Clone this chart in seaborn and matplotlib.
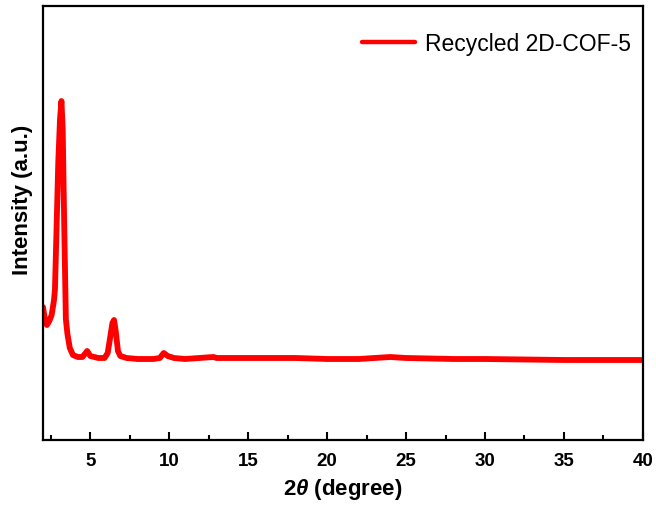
import matplotlib.pyplot as plt
import numpy as np
import pandas as pd
import seaborn as sns

# 2-theta positions (degree) and intensity (a.u.)
two_theta = [2.0, 2.1, 2.25, 2.4, 2.55, 2.7, 2.76, 2.86, 2.97, 3.08, 3.17, 3.25,
             3.35, 3.45, 3.55, 3.7, 3.9, 4.2, 4.5, 4.8, 5.0, 5.5, 5.9, 6.1, 6.25,
             6.4, 6.5, 6.6, 6.75, 6.9, 7.3, 8.0, 9.0, 9.4, 9.65, 9.9, 10.3, 11.0,
             12.8, 13.0, 15.0, 18.0, 20.0, 22.0, 24.0, 25.0, 28.0, 30.0, 35.0, 40.0]
intensity = [133, 123, 115, 119, 125, 140, 151, 211, 278, 321, 339, 311,
             211, 121, 106, 92, 85, 83, 83, 89, 84, 82, 82, 87, 102,
             117, 120, 110, 89, 84, 82, 81, 81, 82, 87, 84, 82, 81,
             83, 82, 82, 82, 81, 81, 83, 82, 81, 81, 80, 80]
series_name = "Recycled 2D-COF-5"
x_ticks = [5, 10, 15, 20, 25, 30, 35, 40]

df = pd.DataFrame({"two_theta": two_theta, "intensity": intensity})

sns.set_style("ticks")
plt.rcParams['font.family'] = ['Liberation Sans', 'DejaVu Sans']
plt.rcParams['text.color'] = 'black'
plt.rcParams['axes.labelcolor'] = 'black'
plt.rcParams['xtick.color'] = 'black'
plt.rcParams['mathtext.fontset'] = 'custom'
plt.rcParams['mathtext.it'] = 'Liberation Sans:italic:bold'
plt.rcParams['mathtext.rm'] = 'Liberation Sans:bold'

fig = plt.figure(figsize=(6.56, 5.06), dpi=100)
ax = fig.add_axes([0.0655, 0.1285, 0.9145, 0.8575])

sns.lineplot(data=df, x="two_theta", y="intensity", color="#ff0000",
             linewidth=4.2, label=series_name, ax=ax)

ax.set_xlim(2, 40)
ax.set_ylim(0, 434)
ax.set_xticks(x_ticks)
ax.set_xticks(np.arange(2.5, 40, 5), minor=True)
ax.set_yticks([])
ax.tick_params(axis='x', which='major', direction='in', length=6, width=1.5,
               labelsize=13.5, pad=9, labelcolor='black')
ax.tick_params(axis='x', which='minor', direction='in', length=3.5, width=1.5)
for lab in ax.get_xticklabels():
    lab.set_fontweight('bold')
for side in ax.spines.values():
    side.set_linewidth(1.6)
    side.set_color('black')

ax.set_xlabel(r"2$\theta$ (degree)", fontsize=16, fontweight='bold', labelpad=5)
ax.set_ylabel("Intensity (a.u.)", fontsize=16, fontweight='bold')
ax.yaxis.set_label_coords(-0.017, 0.555)

leg = ax.legend(loc='upper right', bbox_to_anchor=(1.0, 0.967), frameon=False,
                fontsize=16.5, handlelength=2.3, borderaxespad=0.1,
                handletextpad=0.45)
for h in leg.get_lines():
    h.set_linewidth(3.2)

fig.savefig("out.png", dpi=100)
